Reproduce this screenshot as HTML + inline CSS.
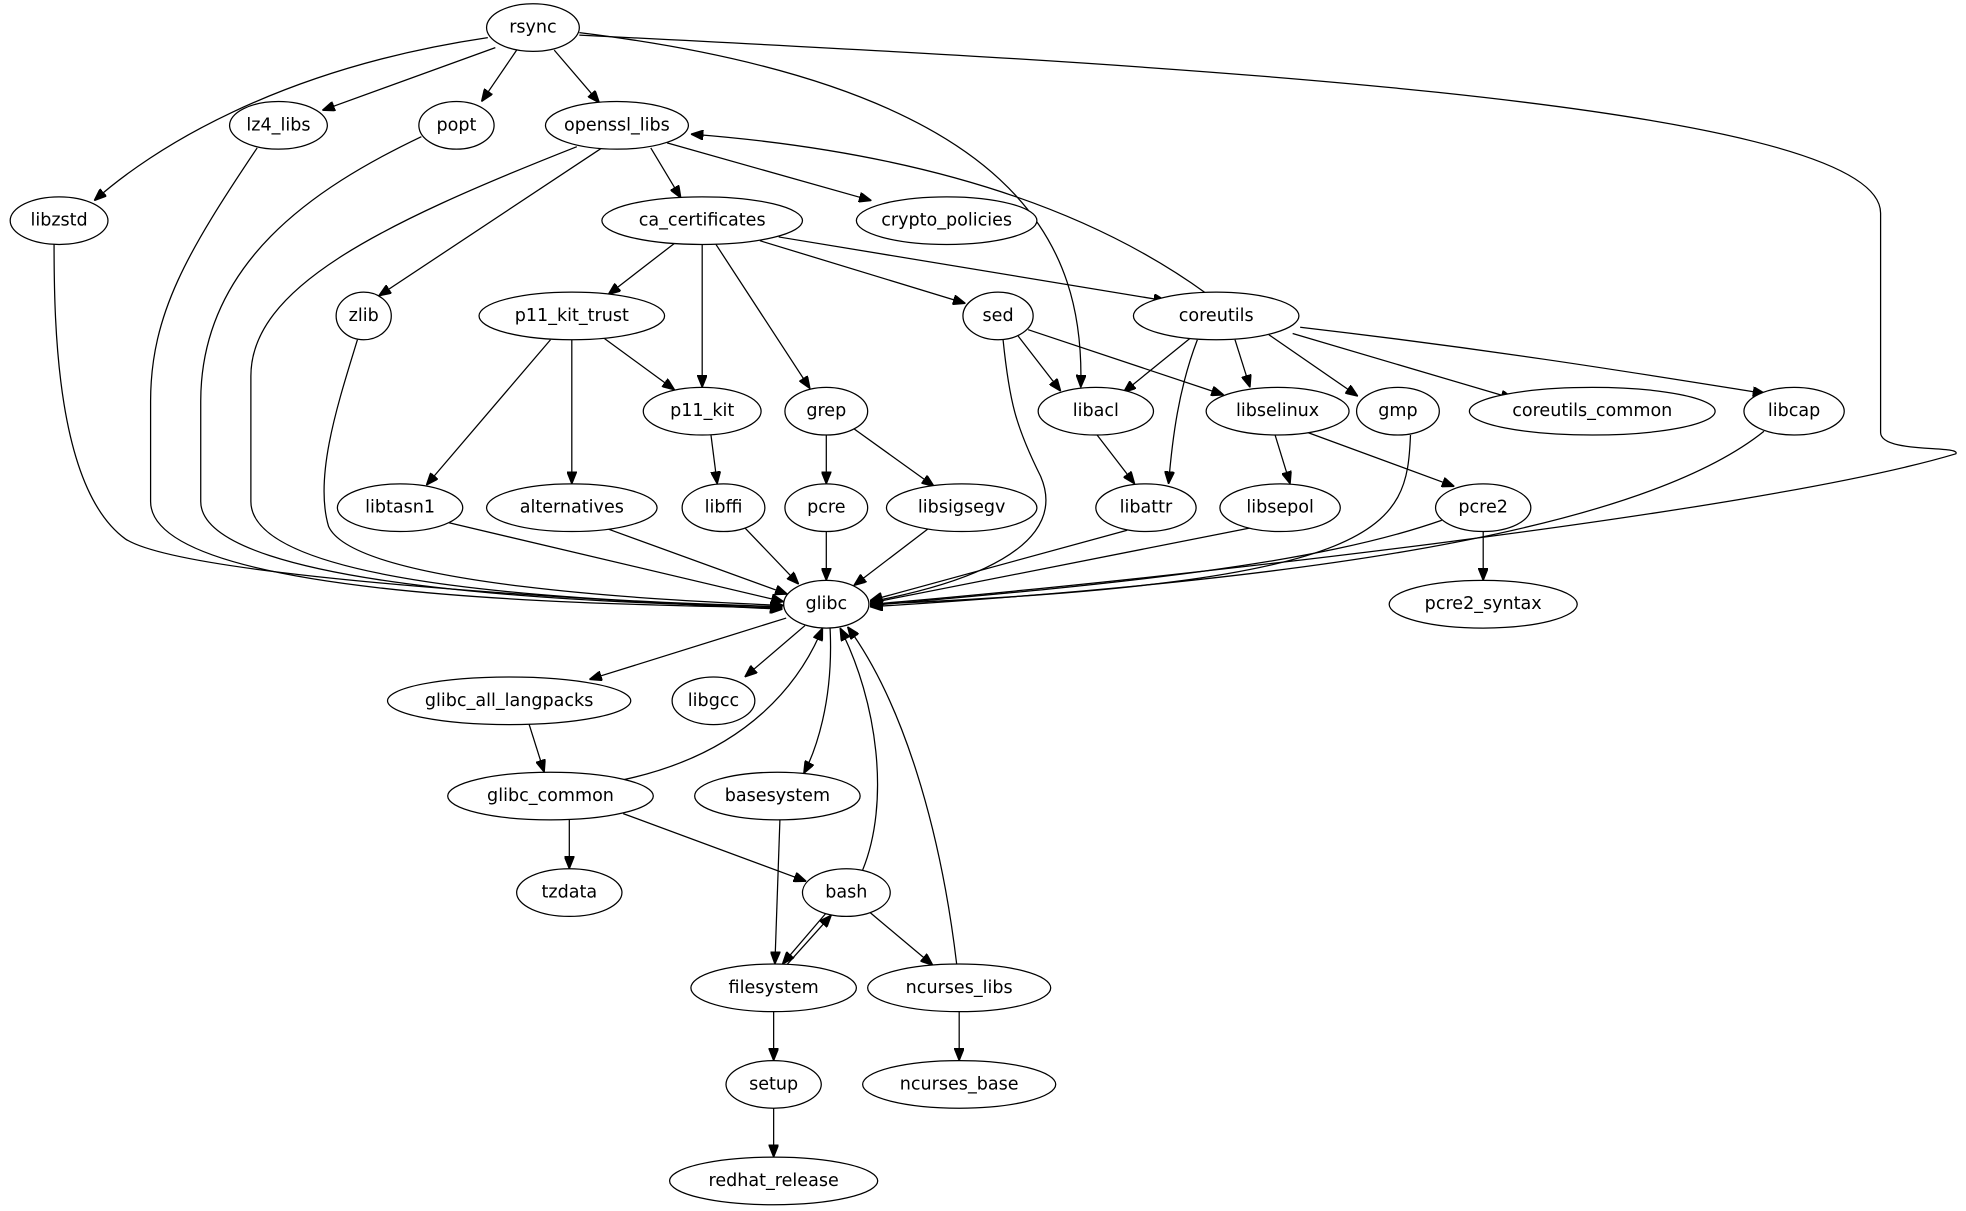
<!DOCTYPE html>
<html><head><meta charset="utf-8"><style>
html,body{margin:0;padding:0;background:#fff;}
svg{display:block}
text{font-family:"DejaVu Sans","Liberation Sans",sans-serif;font-size:14px;text-anchor:middle;dominant-baseline:central;fill:#000}
ellipse{fill:#fff;stroke:#000;stroke-width:1}
path{fill:none;stroke:#000;stroke-width:1}
</style></head><body>
<svg width="1966" height="1211" viewBox="0 0 1568 966" xmlns="http://www.w3.org/2000/svg">
<defs><marker id="a" markerWidth="10" markerHeight="8" refX="10" refY="4" orient="auto" markerUnits="userSpaceOnUse"><path d="M0,0 L10,4 L0,8 Z" style="fill:#000;stroke:#000"/></marker></defs>
<g marker-end="url(#a)">
<path d="M389,30 C220,55 120,120 75,160"/>
<path d="M395,38 L257,88"/>
<path d="M412,40 L384,81"/>
<path d="M442,40 L478,82"/>
<path d="M462,26 C820,70 865,200 862,309"/>
<path d="M462,28 C900,50 1500,80 1500,170 L1500,345 C1500,362 1565,355 1560,362 C1400,410 900,465 694,482"/>
<path d="M460,117 C300,180 200,230 200,300 L200,400 C200,472 500,480 624,484"/>
<path d="M205,118 C150,200 120,250 120,320 L120,400 C120,480 500,482 624,485"/>
<path d="M336,109 C250,150 160,210 160,320 L160,400 C160,472 500,482 624,484"/>
<path d="M43,195 C43,260 45,390 100,430 C150,462 500,480 624,486"/>
<path d="M285,271 C270,320 250,380 262,420 C285,470 560,480 625,483"/>
<path d="M480,118 L302,236"/>
<path d="M519,118 L543,158"/>
<path d="M532,114 L695,160"/>
<path d="M962,234 C860,160 720,120 551,107"/>
<path d="M538,194 L485,235"/>
<path d="M560,195 L560,309"/>
<path d="M571,195 L646,310"/>
<path d="M606,192 L770,242"/>
<path d="M621,189 L930,240"/>
<path d="M439,271 L340,387"/>
<path d="M456,271 L456,386"/>
<path d="M482,270 L538,311"/>
<path d="M567,347 L572,386"/>
<path d="M659,347 L659,386"/>
<path d="M681,342 L745,388"/>
<path d="M812,268 L846,312"/>
<path d="M820,263 L976,315"/>
<path d="M800,271 C805,320 810,340 830,380 C860,450 720,475 694,480"/>
<path d="M949,270 L896,313"/>
<path d="M955,271 C940,310 935,350 932,386"/>
<path d="M985,271 L997,309"/>
<path d="M1012,267 L1083,316"/>
<path d="M1031,266 L1207,318"/>
<path d="M1037,261 C1200,280 1320,300 1408,314"/>
<path d="M875,347 L905,386"/>
<path d="M1017,347 L1029,386"/>
<path d="M1043,345 L1160,388"/>
<path d="M1183,424 L1183,463"/>
<path d="M358,417 L625,480"/>
<path d="M485,422 L628,474"/>
<path d="M594,421 L637,466"/>
<path d="M659,424 L659,463"/>
<path d="M740,422 L681,467"/>
<path d="M899,423 L694,479"/>
<path d="M998,421 L694,481"/>
<path d="M1150,415 C1050,450 900,465 694,483"/>
<path d="M1125,347 C1122,420 1110,465 694,482"/>
<path d="M1407,344 C1300,430 1000,465 694,484"/>
<path d="M627,493 L470,542"/>
<path d="M642,499 L594,540"/>
<path d="M662,501 C665,560 650,600 641,617"/>
<path d="M422,578 L434,616"/>
<path d="M497,622 C600,600 640,540 656,501"/>
<path d="M454,654 L454,693"/>
<path d="M497,649 L643,703"/>
<path d="M622,654 L618,769"/>
<path d="M688,694 C710,640 700,560 670,501"/>
<path d="M763,769 C750,660 720,560 676,500"/>
<path d="M660,727 L624,769"/>
<path d="M628,769 L663,730"/>
<path d="M694,728 L744,770"/>
<path d="M617,807 L617,846"/>
<path d="M617,884 L617,923"/>
<path d="M765,807 L765,846"/>
</g>
<g>
<ellipse cx="425" cy="22" rx="37" ry="19"/><text x="425" y="22">rsync</text>
<ellipse cx="222" cy="100" rx="39" ry="19"/><text x="222" y="100">lz4_libs</text>
<ellipse cx="364" cy="100" rx="30" ry="19"/><text x="364" y="100">popt</text>
<ellipse cx="492" cy="100" rx="57" ry="19"/><text x="492" y="100">openssl_libs</text>
<ellipse cx="47" cy="176" rx="39" ry="19"/><text x="47" y="176">libzstd</text>
<ellipse cx="560" cy="176" rx="80" ry="19"/><text x="560" y="176">ca_certificates</text>
<ellipse cx="755" cy="176" rx="72" ry="19"/><text x="755" y="176">crypto_policies</text>
<ellipse cx="290" cy="252" rx="22" ry="19"/><text x="290" y="252">zlib</text>
<ellipse cx="456" cy="252" rx="74" ry="19"/><text x="456" y="252">p11_kit_trust</text>
<ellipse cx="796" cy="252" rx="28" ry="19"/><text x="796" y="252">sed</text>
<ellipse cx="970" cy="252" rx="66" ry="19"/><text x="970" y="252">coreutils</text>
<ellipse cx="560" cy="328" rx="47" ry="19"/><text x="560" y="328">p11_kit</text>
<ellipse cx="659" cy="328" rx="33" ry="19"/><text x="659" y="328">grep</text>
<ellipse cx="874" cy="328" rx="46" ry="19"/><text x="874" y="328">libacl</text>
<ellipse cx="1019" cy="328" rx="57" ry="19"/><text x="1019" y="328">libselinux</text>
<ellipse cx="1115" cy="328" rx="33" ry="19"/><text x="1115" y="328">gmp</text>
<ellipse cx="1270" cy="328" rx="98" ry="19"/><text x="1270" y="328">coreutils_common</text>
<ellipse cx="1431" cy="328" rx="40" ry="19"/><text x="1431" y="328">libcap</text>
<ellipse cx="319" cy="405" rx="50" ry="19"/><text x="319" y="405">libtasn1</text>
<ellipse cx="456" cy="405" rx="68" ry="19"/><text x="456" y="405">alternatives</text>
<ellipse cx="577" cy="405" rx="33" ry="19"/><text x="577" y="405">libffi</text>
<ellipse cx="659" cy="405" rx="33" ry="19"/><text x="659" y="405">pcre</text>
<ellipse cx="767" cy="405" rx="60" ry="19"/><text x="767" y="405">libsigsegv</text>
<ellipse cx="914" cy="405" rx="40" ry="19"/><text x="914" y="405">libattr</text>
<ellipse cx="1021" cy="405" rx="48" ry="19"/><text x="1021" y="405">libsepol</text>
<ellipse cx="1183" cy="405" rx="38" ry="19"/><text x="1183" y="405">pcre2</text>
<ellipse cx="659" cy="482" rx="34" ry="19"/><text x="659" y="482">glibc</text>
<ellipse cx="1183" cy="482" rx="75" ry="19"/><text x="1183" y="482">pcre2_syntax</text>
<ellipse cx="406" cy="559" rx="97" ry="19"/><text x="406" y="559">glibc_all_langpacks</text>
<ellipse cx="569" cy="559" rx="33" ry="19"/><text x="569" y="559">libgcc</text>
<ellipse cx="439" cy="635" rx="82" ry="19"/><text x="439" y="635">glibc_common</text>
<ellipse cx="620" cy="635" rx="66" ry="19"/><text x="620" y="635">basesystem</text>
<ellipse cx="454" cy="712" rx="42" ry="19"/><text x="454" y="712">tzdata</text>
<ellipse cx="675" cy="712" rx="35" ry="19"/><text x="675" y="712">bash</text>
<ellipse cx="617" cy="788" rx="66" ry="19"/><text x="617" y="788">filesystem</text>
<ellipse cx="765" cy="788" rx="73" ry="19"/><text x="765" y="788">ncurses_libs</text>
<ellipse cx="617" cy="865" rx="38" ry="19"/><text x="617" y="865">setup</text>
<ellipse cx="765" cy="865" rx="77" ry="19"/><text x="765" y="865">ncurses_base</text>
<ellipse cx="617" cy="942" rx="83" ry="19"/><text x="617" y="942">redhat_release</text>
</g>
</svg>
</body></html>
